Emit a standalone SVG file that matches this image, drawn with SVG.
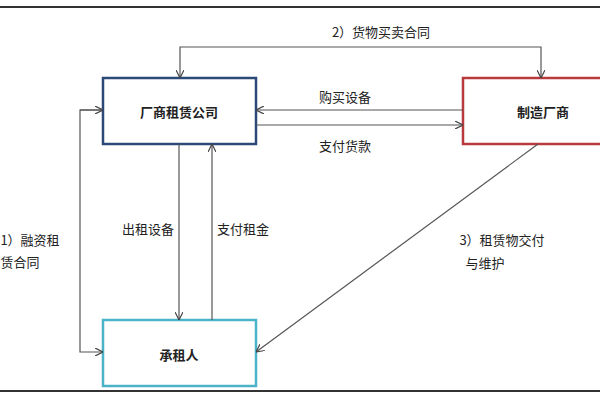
<svg xmlns="http://www.w3.org/2000/svg" width="600" height="400" viewBox="0 0 600 400">
<defs>
<marker id="a" viewBox="0 0 10 10" refX="10" refY="5" markerWidth="8" markerHeight="8" orient="auto" markerUnits="userSpaceOnUse"><path d="M0,0 L10,5 L0,10" fill="none" stroke="#444" stroke-width="1.5"/></marker>
</defs>
<style>
text{font-family:"Noto Sans CJK SC","Liberation Sans",sans-serif;font-size:13px;fill:#222;text-anchor:middle}
.b{font-weight:bold}
.c{fill:none;stroke:#555;stroke-width:1.2;marker-end:url(#a)}
.n{fill:#fff;stroke-width:2.5}
</style>
<rect width="600" height="400" fill="#fff"/>
<line x1="0" y1="7" x2="600" y2="7" stroke="#333" stroke-width="2"/>
<line x1="0" y1="391" x2="600" y2="391" stroke="#333" stroke-width="2"/>
<g id="n1"><rect class="n" x="103" y="78" width="153" height="66" stroke="#2c4a78"/><text class="b" x="179" y="117">厂商租赁公司</text></g>
<g id="n2"><rect class="n" x="463" y="78" width="145" height="66" stroke="#b83a3e"/><text class="b" x="543" y="117">制造厂商</text></g>
<g id="n3"><rect class="n" x="103" y="320" width="153" height="66" stroke="#4bb3c8"/><text class="b" x="179" y="360">承租人</text></g>
<g id="edges">
<path class="c" d="M381,47 H180 V78"/>
<path class="c" d="M381,47 H541 V78"/>
<path class="c" d="M463,110 H256"/>
<path class="c" d="M256,125 H463"/>
<path class="c" d="M179,144 V320"/>
<path class="c" d="M212,320 V144"/>
<path class="c" d="M103,110 H80 V352 H103"/>
<line class="c" x1="80" y1="110" x2="103" y2="110"/>
<path class="c" d="M538,144 L256,352"/>
</g>
<g id="labels">
<text x="381" y="37">2）货物买卖合同</text>
<text x="345" y="102">购买设备</text>
<text x="345" y="151">支付货款</text>
<text x="148" y="234">出租设备</text>
<text x="243" y="234">支付租金</text>
<text x="30" y="245">1）融资租</text>
<text x="20" y="267">赁合同</text>
<text x="502" y="245">3）租赁物交付</text>
<text x="485" y="268">与维护</text>
</g>
</svg>
